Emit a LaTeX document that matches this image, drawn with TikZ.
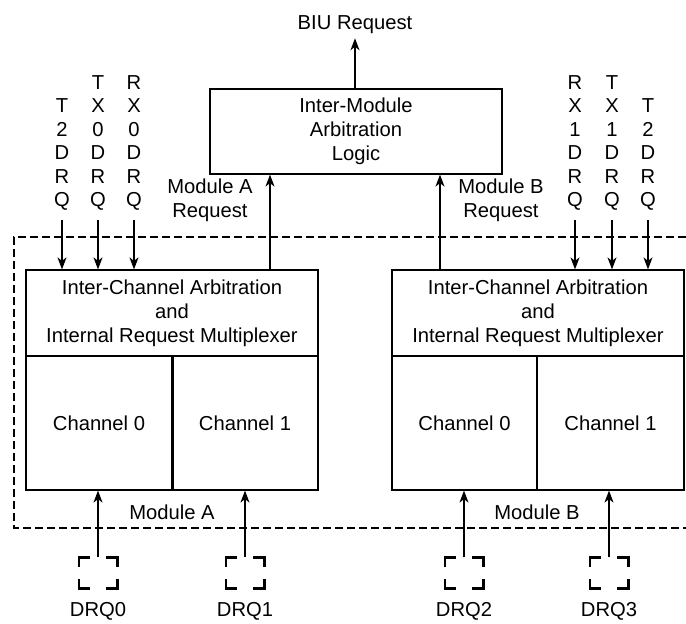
\documentclass[tikz,border=0pt]{standalone}
\usepackage{fontspec}
\setmainfont{Liberation Sans}
\usetikzlibrary{arrows.meta}
\tikzset{
  box/.style={draw, line width=1.2pt, align=center, inner sep=0pt},
  req/.style={line width=1.3pt, -{Stealth[length=12pt,width=9pt,inset=3.5pt]}},
  lbl/.style={align=center, inner sep=0pt},
  letters/.style={align=center, inner sep=0pt, anchor=south, font=\fontsize{20.2}{23.5}\selectfont},
  pin/.style={minimum width=38pt, minimum height=31pt, inner sep=0pt},
  corner/.style={line width=2.6pt}
}
\begin{document}
\begin{tikzpicture}[x=1pt, y=-1pt, font=\fontsize{20.2}{24}\selectfont]
  \useasboundingbox[fill=white] (0,0) rectangle (686,624);

  \node[box, minimum width=292pt, minimum height=85pt] (iml) at (356,131.5)
    {Inter-Module\\Arbitration\\Logic};
  \node[lbl] (biu) at (355,25) {BIU Request};

  \node[box, minimum width=292pt, minimum height=86pt] (arbA) at (172,313)
    {Inter-Channel Arbitration\\and\\Internal Request Multiplexer};
  \node[box, minimum width=146pt, minimum height=134pt] (chA0) at (99,423) {Channel 0};
  \node[box, minimum width=146pt, minimum height=134pt] (chA1) at (245,423) {Channel 1};
  \draw[line width=3pt] (chA0.north east) -- (chA0.south east);

  \node[box, minimum width=292pt, minimum height=86pt] (arbB) at (538,313)
    {Inter-Channel Arbitration\\and\\Internal Request Multiplexer};
  \node[box, minimum width=145pt, minimum height=134pt] (chB0) at (464.5,423) {Channel 0};
  \node[box, minimum width=147pt, minimum height=134pt] (chB1) at (610.5,423) {Channel 1};

  \draw[line width=1.2pt, dash pattern=on 8pt off 4pt]
    (686,237) -- (14,237) -- (14,528) -- (686,528);
  \node[lbl] (modA) at (172,512) {Module A};
  \node[lbl] (modB) at (537,512) {Module B};

  \node[letters] (t2a) at (62,211) {T\\2\\D\\R\\Q};
  \node[letters] (tx0) at (98,211) {T\\X\\0\\D\\R\\Q};
  \node[letters] (rx0) at (134,211) {R\\X\\0\\D\\R\\Q};
  \node[letters] (rx1) at (575,211) {R\\X\\1\\D\\R\\Q};
  \node[letters] (tx1) at (612,211) {T\\X\\1\\D\\R\\Q};
  \node[letters] (t2b) at (648,211) {T\\2\\D\\R\\Q};
  \foreach \n/\m in {t2a/arbA, tx0/arbA, rx0/arbA, rx1/arbB, tx1/arbB, t2b/arbB}
    \draw[req, shorten <=9pt] (\n.south) -- (\n.south |- \m.north);

  \coordinate (reqA) at (270,270);
  \coordinate (reqB) at (440,270);
  \draw[req] (reqA) -- (reqA |- iml.south);
  \draw[req] (reqB) -- (reqB |- iml.south);
  \node[lbl] (reqAl) at (210,200) {Module A\\Request};
  \node[lbl] (reqBl) at (501,200) {Module B\\Request};
  \draw[req] (iml.north -| biu.south) -- ([yshift=-4pt]biu.south);

  \node[pin] (drq0) at (98,573) {};
  \node[pin] (drq1) at (245,573) {};
  \node[pin] (drq2) at (464,573) {};
  \node[pin] (drq3) at (609,573) {};
  \node[lbl] (drq0l) at (98,611) {DRQ0};
  \node[lbl] (drq1l) at (245,611) {DRQ1};
  \node[lbl] (drq2l) at (464,611) {DRQ2};
  \node[lbl] (drq3l) at (609,611) {DRQ3};
  \foreach \p/\c in {drq0/chA0, drq1/chA1, drq2/chB0, drq3/chB1} {
    \draw[corner] ([xshift=11pt]\p.north west) -- (\p.north west) -- ([yshift=-10pt]\p.north west);
    \draw[corner] ([xshift=-11pt]\p.north east) -- (\p.north east) -- ([yshift=-10pt]\p.north east);
    \draw[corner] ([xshift=11pt]\p.south west) -- (\p.south west) -- ([yshift=10pt]\p.south west);
    \draw[corner] ([xshift=-11pt]\p.south east) -- (\p.south east) -- ([yshift=10pt]\p.south east);
    \draw[req] (\p.north) -- (\p.north |- \c.south);
  }
\end{tikzpicture}
\end{document}
